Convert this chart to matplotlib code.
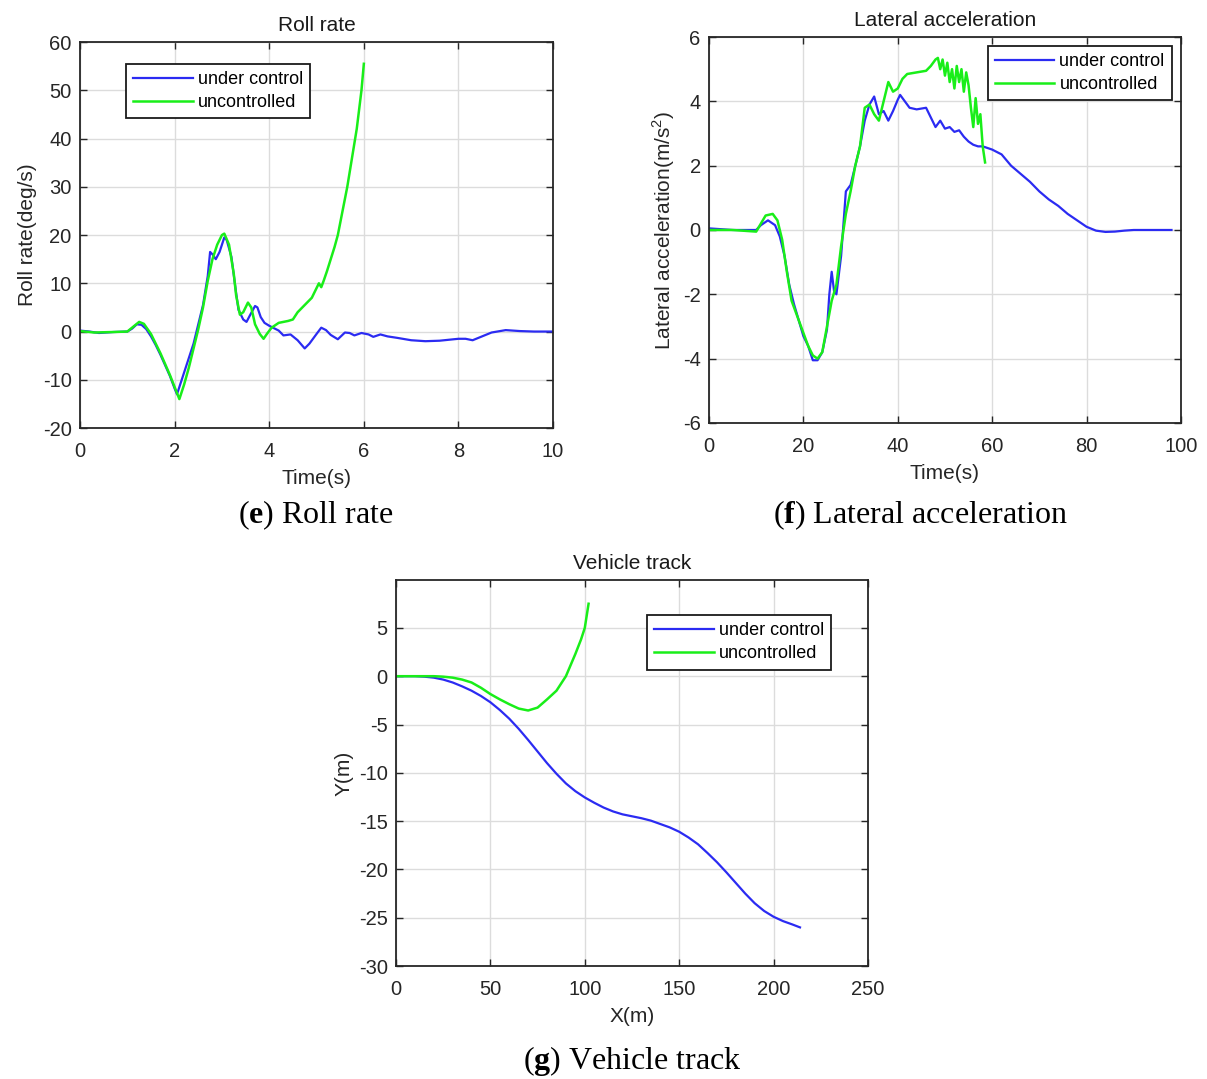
import matplotlib
matplotlib.use("Agg")
import matplotlib.pyplot as plt
import numpy as np

plt.rcParams['font.family'] = ['Liberation Sans', 'DejaVu Sans']
plt.rcParams['mathtext.fontset'] = 'custom'
plt.rcParams['mathtext.rm'] = 'Liberation Sans'
plt.rcParams['mathtext.bf'] = 'Liberation Serif:bold'
plt.rcParams['axes.unicode_minus'] = False

# ---------------- data ----------------
legend_labels = ["under control", "uncontrolled"]

# (e) Roll rate
roll_t_ctrl = [0.0, 0.2, 0.4, 0.7, 1.0, 1.1, 1.2, 1.3, 1.4, 1.5, 1.6, 1.7, 1.8, 1.9, 2.0, 2.05, 2.1, 2.2,
               2.3, 2.4, 2.5, 2.6, 2.7, 2.75, 2.8, 2.87, 2.95, 3.05, 3.1, 3.2, 3.3, 3.35, 3.45, 3.52, 3.6,
               3.7, 3.75, 3.82, 3.9, 4.0, 4.2, 4.3, 4.45, 4.6, 4.75, 4.85, 5.0, 5.1, 5.2, 5.3, 5.45, 5.6,
               5.7, 5.8, 5.95, 6.1, 6.2, 6.35, 6.5, 6.7, 7.0, 7.3, 7.6, 8.0, 8.15, 8.3, 8.5, 8.7, 9.0,
               9.3, 9.6, 10.0]
roll_v_ctrl = [0.2, 0.0, -0.3, -0.1, 0.0, 0.6, 1.5, 1.4, 0.5, -1.0, -2.8, -4.8, -7.0, -9.2, -11.8, -13.0,
               -11.5, -8.5, -5.5, -2.5, 1.5, 5.5, 11.5, 16.5, 16.0, 15.0, 16.5, 19.5, 19.0, 15.5, 8.0, 4.5,
               2.5, 2.0, 3.5, 5.3, 5.0, 3.0, 1.8, 1.2, 0.2, -0.8, -0.6, -1.8, -3.5, -2.5, -0.5, 0.8, 0.3,
               -0.7, -1.6, -0.2, -0.3, -0.8, -0.3, -0.6, -1.1, -0.6, -1.0, -1.3, -1.8, -2.0, -1.9, -1.5,
               -1.5, -1.8, -1.0, -0.2, 0.3, 0.1, 0.0, 0.0]
roll_t_unc = [0.0, 0.3, 0.7, 1.0, 1.1, 1.25, 1.35, 1.5, 1.7, 1.9, 2.0, 2.1, 2.2, 2.3, 2.4, 2.5, 2.6, 2.7,
              2.8, 2.9, 3.0, 3.05, 3.15, 3.25, 3.3, 3.38, 3.45, 3.55, 3.62, 3.7, 3.8, 3.88, 3.95, 4.05,
              4.2, 4.4, 4.5, 4.6, 4.75, 4.9, 5.0, 5.05, 5.1, 5.15, 5.22, 5.3, 5.38, 5.45, 5.5, 5.55,
              5.6, 5.65, 5.7, 5.75, 5.8, 5.85, 5.9, 5.95, 6.0]
roll_v_unc = [0.1, -0.2, -0.1, 0.0, 0.8, 2.0, 1.6, -0.5, -4.5, -9.0, -11.5, -14.0, -11.0, -7.5, -3.5,
              0.5, 5.0, 10.5, 15.0, 18.0, 20.0, 20.3, 18.0, 12.0, 7.5, 3.5, 4.0, 6.0, 5.0, 1.5, -0.5,
              -1.5, -0.5, 0.8, 1.8, 2.2, 2.5, 4.0, 5.5, 7.0, 9.0, 10.0, 9.2, 10.5, 12.5, 15.0, 17.5,
              20.0, 22.5, 25.0, 27.5, 30.0, 33.0, 36.0, 39.0, 42.0, 46.0, 50.0, 55.5]

# (f) Lateral acceleration
lat_t_ctrl = [0, 5, 10, 11, 12.5, 14, 15, 16, 17, 18, 19, 20, 21, 22, 23, 24, 25, 25.5, 26, 26.5, 27,
              28, 29, 30, 31, 32, 33, 34, 35, 36, 37, 38, 39, 40, 40.5, 41.5, 42.5, 44, 46, 47, 48, 49,
              50, 51, 52, 53, 54, 55, 56, 57, 58, 60, 62, 64, 66, 68, 70, 72, 74, 76, 78, 80, 82, 84,
              86, 88, 90, 95, 98]
lat_v_ctrl = [0.05, 0.0, 0.0, 0.15, 0.3, 0.15, -0.2, -0.8, -1.7, -2.3, -2.8, -3.3, -3.6, -4.05, -4.05,
              -3.8, -3.1, -2.0, -1.3, -1.9, -2.0, -0.8, 1.2, 1.4, 2.0, 2.6, 3.4, 3.9, 4.15, 3.6, 3.7,
              3.4, 3.7, 4.05, 4.2, 4.0, 3.8, 3.75, 3.8, 3.5, 3.2, 3.4, 3.15, 3.2, 3.05, 3.1, 2.9, 2.75,
              2.65, 2.6, 2.6, 2.5, 2.35, 2.0, 1.75, 1.5, 1.2, 0.95, 0.75, 0.5, 0.3, 0.1, -0.02, -0.06,
              -0.05, -0.02, 0.0, 0.0, 0.0]
lat_t_unc = [0, 5, 10, 11, 12, 13.5, 14.5, 15.5, 16.5, 17.5, 19, 20, 21, 22, 23, 24, 25, 26, 27, 28,
             29, 30, 31, 32, 33, 34, 35, 36, 37, 38, 39, 40, 41, 42, 44, 46, 47, 48, 48.5, 49, 49.5,
             50, 50.5, 51, 51.5, 52, 52.5, 53, 53.5, 54, 54.5, 55, 55.5, 56, 56.5, 57, 57.5, 58, 58.5]
lat_v_unc = [0.0, 0.0, -0.05, 0.2, 0.45, 0.5, 0.3, -0.3, -1.3, -2.2, -2.8, -3.2, -3.6, -3.9, -4.0,
             -3.8, -3.0, -2.2, -1.7, -0.5, 0.5, 1.2, 2.0, 2.6, 3.8, 3.9, 3.6, 3.4, 4.0, 4.6, 4.3, 4.4,
             4.7, 4.85, 4.9, 4.95, 5.1, 5.3, 5.35, 5.0, 5.3, 4.8, 5.2, 4.6, 5.0, 4.4, 5.1, 4.6, 5.0,
             4.3, 4.9, 4.5, 3.8, 3.2, 4.1, 3.3, 3.6, 2.6, 2.1]

# (g) Vehicle track
trk_x_ctrl = [0, 10, 15, 20, 25, 30, 35, 40, 45, 50, 55, 60, 65, 70, 75, 80, 85, 90, 95, 100, 105,
              110, 115, 120, 125, 130, 135, 140, 145, 150, 155, 160, 165, 170, 175, 180, 185, 190,
              195, 200, 205, 210, 214]
trk_y_ctrl = [0, 0, -0.05, -0.15, -0.35, -0.65, -1.05, -1.5, -2.05, -2.7, -3.5, -4.4, -5.45, -6.6,
              -7.8, -9.0, -10.1, -11.1, -11.9, -12.55, -13.1, -13.6, -14.0, -14.3, -14.5, -14.7,
              -14.95, -15.3, -15.65, -16.1, -16.7, -17.4, -18.3, -19.25, -20.3, -21.4, -22.5, -23.5,
              -24.3, -24.9, -25.35, -25.7, -26.0]
trk_x_unc = [0, 10, 20, 25, 30, 35, 40, 45, 50, 55, 60, 65, 70, 75, 80, 85, 90, 95, 98, 100, 102]
trk_y_unc = [0, 0, 0, -0.05, -0.15, -0.35, -0.65, -1.2, -1.85, -2.4, -2.9, -3.35, -3.55, -3.25,
             -2.4, -1.5, 0.0, 2.3, 3.8, 5.0, 7.5]

BLUE = "#2b2bf2"
GREEN = "#19ee19"
TXT = "#262626"

fig = plt.figure(figsize=(12.07, 10.79), dpi=100)


def style(ax):
    ax.grid(True, color="#dcdcdc", linewidth=1.0)
    ax.set_axisbelow(True)
    ax.tick_params(direction="in", length=5, width=1.0, top=True, right=True,
                   labelsize=14.5, colors=TXT)
    ax.tick_params(axis="x", pad=10)
    ax.tick_params(axis="y", pad=6)
    for s in ax.spines.values():
        s.set_linewidth(1.3)
        s.set_color(TXT)


def legend(ax, loc, anchor):
    lg = ax.legend(legend_labels, loc=loc, bbox_to_anchor=anchor, fontsize=13,
                   frameon=True, fancybox=False, edgecolor="#1a1a1a", framealpha=1,
                   handlelength=3.3, handletextpad=0.28, borderpad=0.4, labelspacing=0.33,
                   borderaxespad=0)
    lg.get_frame().set_linewidth(1.3)


LBL = dict(fontsize=15, color=TXT)

# (e)
ax1 = fig.add_axes([0.0663, 0.6033, 0.3919, 0.3577])
ax1.plot(roll_t_ctrl, roll_v_ctrl, color=BLUE, lw=1.6)
ax1.plot(roll_t_unc, roll_v_unc, color=GREEN, lw=1.8)
ax1.set_xlim(0, 10)
ax1.set_ylim(-20, 60)
ax1.set_xticks(np.arange(0, 11, 2))
ax1.set_yticks(np.arange(-20, 61, 10))
ax1.set_title("Roll rate", fontsize=15, pad=8, color="#1a1a1a")
ax1.set_xlabel("Time(s)", labelpad=6, **LBL)
ax1.set_ylabel("Roll rate(deg/s)", **LBL)
style(ax1)
legend(ax1, "upper left", (0.097, 0.943))

# (f)
ax2 = fig.add_axes([0.5874, 0.608, 0.391, 0.3577])
ax2.plot(lat_t_ctrl, lat_v_ctrl, color=BLUE, lw=1.6)
ax2.plot(lat_t_unc, lat_v_unc, color=GREEN, lw=1.8)
ax2.set_xlim(0, 100)
ax2.set_ylim(-6, 6)
ax2.set_xticks(np.arange(0, 101, 20))
ax2.set_yticks(np.arange(-6, 7, 2))
ax2.set_title("Lateral acceleration", fontsize=15, pad=8, color="#1a1a1a")
ax2.set_xlabel("Time(s)", labelpad=6, **LBL)
ax2.set_ylabel("Lateral acceleration(m/s$^2$)", **LBL)
style(ax2)
legend(ax2, "upper right", (0.981, 0.977))

# (g)
ax3 = fig.add_axes([0.3281, 0.1047, 0.391, 0.3577])
ax3.plot(trk_x_ctrl, trk_y_ctrl, color=BLUE, lw=1.6)
ax3.plot(trk_x_unc, trk_y_unc, color=GREEN, lw=1.8)
ax3.set_xlim(0, 250)
ax3.set_ylim(-30, 9.95)
ax3.set_xticks(np.arange(0, 251, 50))
ax3.set_yticks(np.arange(-30, 6, 5))
ax3.set_title("Vehicle track", fontsize=15, pad=8, color="#1a1a1a")
ax3.set_xlabel("X(m)", labelpad=6, **LBL)
ax3.set_ylabel("Y(m)", **LBL)
style(ax3)
legend(ax3, "upper left", (0.532, 0.909))

# captions
cap_kw = dict(fontsize=23, family="Liberation Serif", ha="center", va="center")
fig.text(0.2618, 0.5227, r"($\mathbf{e}$) Roll rate", **cap_kw)
fig.text(0.7622, 0.5227, r"($\mathbf{f}$) Lateral acceleration", **cap_kw)
fig.text(0.5236, 0.0167, r"($\mathbf{g}$) Vehicle track", **cap_kw)

fig.savefig("out.png", dpi=100)
